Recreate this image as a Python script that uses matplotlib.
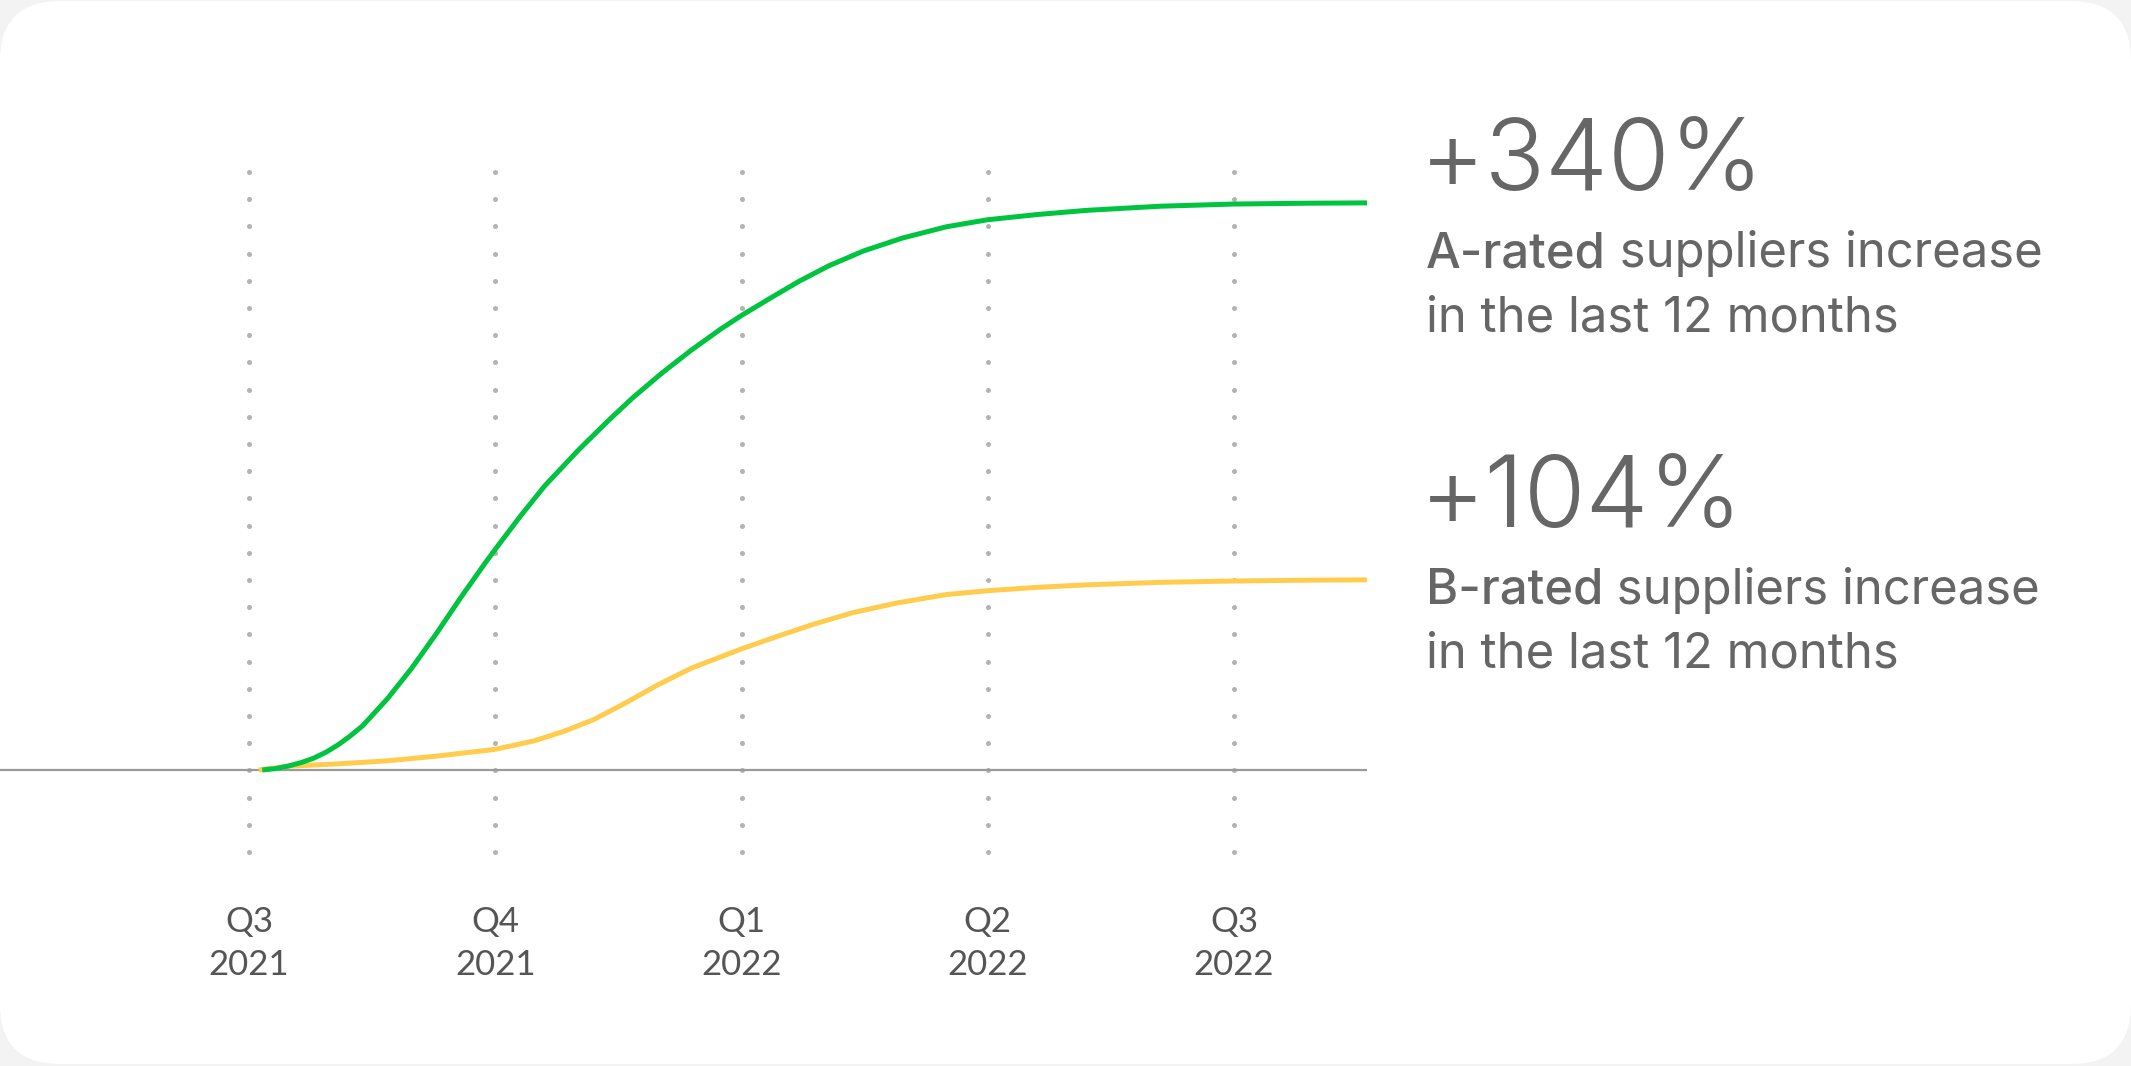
import numpy as np
import matplotlib
matplotlib.use("Agg")
import matplotlib.pyplot as plt
from matplotlib.patches import FancyBboxPatch
from matplotlib import transforms

# ---------------- data ----------------
quarters = ["Q3", "Q4", "Q1", "Q2", "Q3"]
years = ["2021", "2021", "2022", "2022", "2022"]
quarter_pos = [0, 1, 2, 3, 4]

a_x = [0.054, 0.11, 0.163, 0.213, 0.263, 0.313, 0.363, 0.412, 0.462, 0.562,
       0.661, 0.761, 0.861, 0.96,
       1.0, 1.1, 1.2, 1.339, 1.458, 1.558, 1.677, 1.797, 1.916, 2.0,
       2.116, 2.235, 2.355, 2.494, 2.653, 2.833, 3.0, 3.2, 3.4, 3.7,
       4.0, 4.3, 4.54]
a_y = [0, 0.9, 2.5, 4.5, 7.1, 10.7, 15.2, 20.5, 26.6, 42.7,
       61.1, 81.8, 103.6, 124.3,
       132.3, 151.8, 170.2, 192.0, 209.3, 223.1, 238.0, 251.8, 264.4, 272.5,
       282.8, 293.1, 302.3, 311.1, 318.9, 325.7, 329.9, 333.0, 335.5, 338.0,
       339.3, 339.8, 340.0]

b_x = [0.04, 0.163, 0.363, 0.562, 0.761, 1.0, 1.159, 1.279, 1.398, 1.518,
       1.657, 1.797, 2.0, 2.155, 2.295, 2.454, 2.633, 2.833, 3.0, 3.2,
       3.4, 3.7, 4.0, 4.3, 4.54]
b_y = [0, 2.3, 3.7, 5.5, 8.3, 12.4, 17.5, 23.2, 30.1, 39.3,
       50.8, 61.1, 72.6, 80.6, 87.5, 94.4, 100.2, 105.2, 107.5, 109.5,
       111.0, 112.5, 113.3, 113.8, 114.0]

a_value = "+340%"
b_value = "+104%"
a_bold = "A-rated"
b_bold = "B-rated"
rest1 = " suppliers increase"
rest2 = "in the last 12 months"

# ---------------- layout ----------------
W, H, DPI = 2131, 1066, 100
X0_PX, XSTEP_PX = 249, 246.25      # pixel of first quarter, pixels per quarter
Y0_PX, YSCALE = 770, 1.668          # baseline pixel (from top), pixels per unit

GREEN = "#00C43F"
YELLOW = "#FFCC4D"
TEXT = "#666666"
TICK = "#555555"

plt.rcParams["font.family"] = ["Lato", "DejaVu Sans"]
BODY_FONT = ["Inter", "Lato", "DejaVu Sans"]

fig = plt.figure(figsize=(W / DPI, H / DPI), dpi=DPI, facecolor="#f3f3f3")

card = FancyBboxPatch((0, 0.02), W / DPI, (H - 3) / DPI,
                      boxstyle="round,pad=0,rounding_size=0.6",
                      transform=fig.dpi_scale_trans,
                      facecolor="white", edgecolor="none", zorder=-10)
fig.patches.append(card)

ax = fig.add_axes([0, 0, 1, 1], zorder=1)
ax.set_facecolor("none")
ax.set_xlim(-X0_PX / XSTEP_PX, (W - X0_PX) / XSTEP_PX)
ax.set_ylim(-(H - Y0_PX) / YSCALE, Y0_PX / YSCALE)
ax.axis("off")

# dotted vertical guides
dot_top = (Y0_PX - 172) / YSCALE
dot_bot = (Y0_PX - 852) / YSCALE
dot_step = 27.2 / YSCALE
dot_ys = np.arange(dot_bot, dot_top + dot_step * 0.5, dot_step)
for q in quarter_pos:
    ax.scatter(np.full(dot_ys.shape, q), dot_ys, s=13, color="#b3b3b3",
               linewidths=0, zorder=1)

# baseline
x_end = max(a_x)
ax.hlines(0, ax.get_xlim()[0], x_end, color="#9a9a9a", linewidth=1.6, zorder=2)

# series
ax.plot(b_x, b_y, color=YELLOW, linewidth=3.6, solid_capstyle="butt",
        solid_joinstyle="round", zorder=3)
ax.plot(a_x, a_y, color=GREEN, linewidth=3.6, solid_capstyle="butt",
        solid_joinstyle="round", zorder=4)

# quarter labels
trans = transforms.blended_transform_factory(ax.transData, fig.transFigure)
for q, ql, yl in zip(quarter_pos, quarters, years):
    ax.text(q, 1 - 932 / H, ql, transform=trans, ha="center", va="baseline",
            fontsize=25, color=TICK)
    ax.text(q, 1 - 975 / H, yl, transform=trans, ha="center", va="baseline",
            fontsize=25, color=TICK)

# annotations on the right
TX = 1426 / W
BODY_SIZE = 35.3


def block(value, bold, base_px):
    fig.text(TX - 6 / W, 1 - base_px / H, value, fontsize=72, fontweight=300,
             family=BODY_FONT, color=TEXT, ha="left", va="baseline", zorder=5)
    t1 = fig.text(TX, 1 - (base_px + 77) / H, bold, fontsize=BODY_SIZE,
                  family=BODY_FONT, fontweight="medium", color=TEXT,
                  ha="left", va="baseline", zorder=5)
    ax.annotate(rest1, xy=(1, 0), xycoords=t1, ha="left", va="bottom",
                fontsize=BODY_SIZE, family=BODY_FONT, color=TEXT,
                annotation_clip=False)
    fig.text(TX, 1 - (base_px + 141) / H, rest2, fontsize=BODY_SIZE,
             family=BODY_FONT, color=TEXT, ha="left", va="baseline", zorder=5)


block(a_value, a_bold, 190)
block(b_value, b_bold, 527)

fig.savefig("out.png", dpi=DPI, facecolor=fig.get_facecolor())
